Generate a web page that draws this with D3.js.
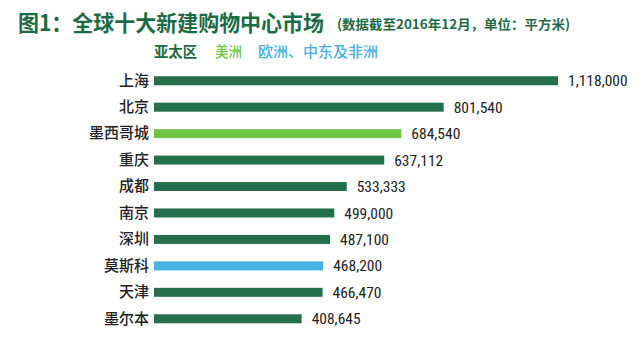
<!DOCTYPE html>
<html><head><meta charset="utf-8">
<script src="https://cdn.jsdelivr.net/npm/d3@7"></script>
<style>
body{margin:0;background:#fff;}
svg{display:block;}
</style></head>
<body>
<svg id="chart" width="640" height="346"></svg>
<script>
const cities = ["上海","北京","墨西哥城","重庆","成都","南京","深圳","莫斯科","天津","墨尔本"];
const areas = [1118000, 801540, 684540, 637112, 533333, 499000, 487100, 468200, 466470, 408645];
const regions = ["亚太区","亚太区","美洲","亚太区","亚太区","亚太区","亚太区","欧洲、中东及非洲","亚太区","亚太区"];
const legendLabels = ["亚太区","美洲","欧洲、中东及非洲"];
const legendColors = ["#256f4d","#72c447","#47b2df"];

const svg = d3.select("#chart");
const cjk = "'Noto Sans CJK SC','Noto Sans',sans-serif";

const x = d3.scaleLinear().domain([0, 1118000]).range([154, 558]);
const y = d3.scaleBand().domain(cities).range([67.5, 332]).paddingInner(0.66).paddingOuter(0.33);
const color = d3.scaleOrdinal().domain(legendLabels).range(legendColors);

// title
svg.append("text").attr("x", 18).attr("y", 31)
  .attr("font-family", cjk).attr("font-weight", 700).attr("font-size", 22)
  .attr("textLength", 306).attr("lengthAdjust", "spacingAndGlyphs")
  .attr("fill", "#1d6b46").text("图1：全球十大新建购物中心市场");
svg.append("text").attr("x", 337).attr("y", 29)
  .attr("font-family", cjk).attr("font-weight", 700).attr("font-size", 13)
  .attr("textLength", 233).attr("lengthAdjust", "spacingAndGlyphs")
  .attr("fill", "#1d6b46").text("(数据截至2016年12月，单位：平方米)");

// legend
const legX = [154, 215, 258];
const legW = [43, 27, 120];
const legWeight = [700, 500, 500];
legendLabels.forEach((l, i) => {
  svg.append("text").attr("x", legX[i]).attr("y", 57)
    .attr("font-family", cjk).attr("font-weight", legWeight[i]).attr("font-size", 14.5)
    .attr("textLength", legW[i]).attr("lengthAdjust", "spacingAndGlyphs")
    .attr("fill", i === 0 ? "#1d6b46" : legendColors[i]).text(l);
});

// bars
svg.append("g").selectAll("rect").data(cities).join("rect")
  .attr("x", x(0))
  .attr("y", d => y(d))
  .attr("width", (d, i) => x(areas[i]) - x(0))
  .attr("height", y.bandwidth())
  .attr("fill", (d, i) => color(regions[i]));

// category labels
const yAxis = d3.axisLeft(y).tickSize(0).tickPadding(5);
const ga = svg.append("g").attr("transform", `translate(${x(0)},0)`).call(yAxis);
ga.select(".domain").remove();
ga.selectAll("text").attr("font-family", cjk).attr("font-size", 15)
  .attr("font-weight", 500).attr("fill", "#222");

// value labels
const fmt = d3.format(",");
svg.append("g").selectAll("text").data(cities).join("text")
  .attr("x", (d, i) => x(areas[i]) + 10)
  .attr("y", d => y(d) + y.bandwidth() / 2)
  .attr("dy", "0.36em")
  .attr("font-family", "'Liberation Sans Narrow','Roboto Condensed','DejaVu Sans Condensed',sans-serif")
  .attr("font-size", 15.5)
  .attr("fill", "#222")
  .text((d, i) => fmt(areas[i]));
</script>
</body></html>
